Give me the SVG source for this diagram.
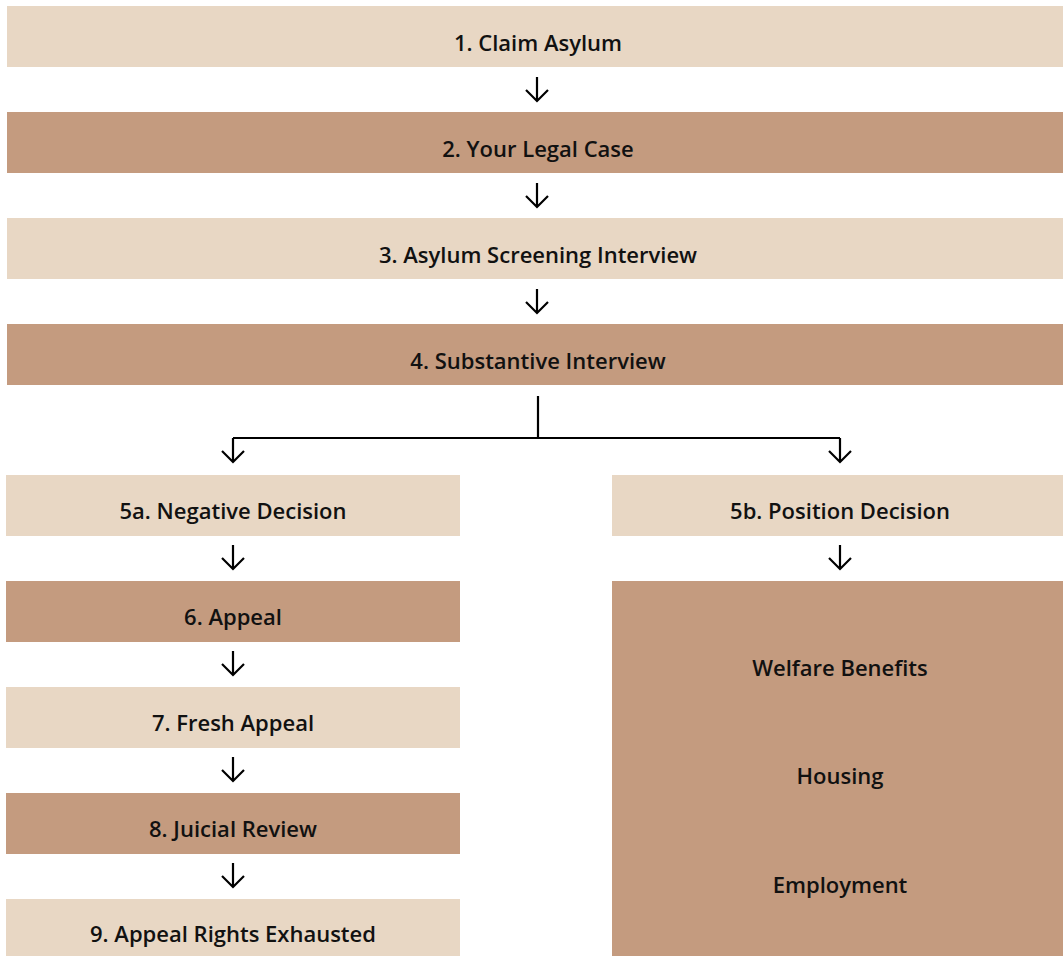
<svg xmlns="http://www.w3.org/2000/svg" width="1063" height="956" viewBox="0 0 1063 956">
<defs>
<style>
.light{fill:#E8D7C4}
.dark{fill:#C49B7F}
.t{font-family:"Open Sans","Noto Sans",sans-serif;font-weight:600;font-size:22px;fill:#111;text-anchor:middle;dominant-baseline:central}
.c{stroke:#000;stroke-width:2.2;fill:none}
</style>
</defs>
<rect width="1063" height="956" fill="#fff"/>
<g id="n1"><rect class="light" x="7" y="6" width="1062" height="61"/><text class="t" x="538" y="42">1. Claim Asylum</text></g>
<g id="n2"><rect class="dark" x="7" y="112" width="1062" height="61"/><text class="t" x="538" y="148">2. Your Legal Case</text></g>
<g id="n3"><rect class="light" x="7" y="218" width="1062" height="61"/><text class="t" x="538" y="254">3. Asylum Screening Interview</text></g>
<g id="n4"><rect class="dark" x="7" y="324" width="1062" height="61"/><text class="t" x="538" y="360">4. Substantive Interview</text></g>
<g id="n5a"><rect class="light" x="6" y="475" width="454" height="61"/><text class="t" x="233" y="510">5a. Negative Decision</text></g>
<g id="n5b"><rect class="light" x="612" y="475" width="457" height="61"/><text class="t" x="840" y="510">5b. Position Decision</text></g>
<g id="n6"><rect class="dark" x="6" y="581" width="454" height="61"/><text class="t" x="233" y="616">6. Appeal</text></g>
<g id="n7"><rect class="light" x="6" y="687" width="454" height="61"/><text class="t" x="233" y="722">7. Fresh Appeal</text></g>
<g id="n8"><rect class="dark" x="6" y="793" width="454" height="61"/><text class="t" x="233" y="828">8. Juicial Review</text></g>
<g id="n9"><rect class="light" x="6" y="899" width="454" height="57"/><text class="t" x="233" y="933">9. Appeal Rights Exhausted</text></g>
<g id="nb"><rect class="dark" x="612" y="581" width="457" height="375"/>
<text class="t" x="840" y="667">Welfare Benefits</text>
<text class="t" x="840" y="775">Housing</text>
<text class="t" x="840" y="884">Employment</text></g>
<g id="connectors" class="c">
<path d="M537 77V101M526 90L537 101L548 90"/>
<path d="M537 183V207M526 196L537 207L548 196"/>
<path d="M537 289V313M526 302L537 313L548 302"/>
<path d="M538 396V438M233 438H840M233 438V462M222 451L233 462L244 451M840 438V462M829 451L840 462L851 451"/>
<path d="M233 545V569M222 558L233 569L244 558"/>
<path d="M233 651V675M222 664L233 675L244 664"/>
<path d="M233 757V781M222 770L233 781L244 770"/>
<path d="M233 863V887M222 876L233 887L244 876"/>
<path d="M840 545V569M829 558L840 569L851 558"/>
</g>
</svg>
